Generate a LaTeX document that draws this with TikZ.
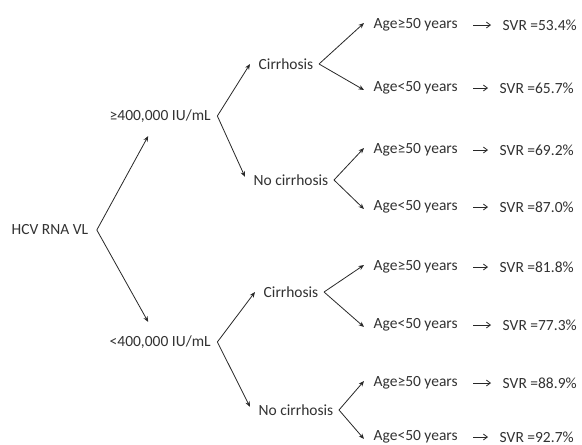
\documentclass[tikz,border=0pt]{standalone}
\usepackage{fontspec}
\setmainfont{Carlito}
\usepackage{tikz}
\usetikzlibrary{arrows.meta, positioning}
\definecolor{treetext}{RGB}{50,50,50}
\definecolor{treeline}{RGB}{40,40,40}
\tikzstyle{treelabel} = [anchor=west, inner sep=1.5pt, text=treetext,
font=\fontsize{15.5}{17}\selectfont]
\tikzstyle{arrow} = [-{Stealth[length=5.5pt,width=4.5pt]}, line width=0.8pt, draw=treeline]
\tikzstyle{resultarrow} = [-{Straight Barb[length=4pt,width=6pt]}, line width=0.8pt, draw=treeline]

\begin{document}
\begin{tikzpicture}[x=1pt, y=-1pt]
    \useasboundingbox[fill=white] (0,0) rectangle (582,445);
    % root and viral load split
    \node (hcv) [treelabel] at (10,230) {HCV RNA VL};
    \node (hi)  [treelabel] at (108,116) {≥400,000 IU/mL};
    \node (lo)  [treelabel] at (108,342) {<400,000 IU/mL};
    % cirrhosis level
    \node (hic) [treelabel] at (257,64)  {Cirrhosis};
    \node (hin) [treelabel] at (252,180) {No cirrhosis};
    \node (loc) [treelabel] at (262,292) {Cirrhosis};
    \node (lon) [treelabel] at (257,410) {No cirrhosis};
    % age level
    \node (a1) [treelabel] at (372,25)  {Age≥50 years};
    \node (a2) [treelabel] at (372,88)  {Age<50 years};
    \node (a3) [treelabel] at (372,150) {Age≥50 years};
    \node (a4) [treelabel] at (372,207) {Age<50 years};
    \node (a5) [treelabel] at (372,267) {Age≥50 years};
    \node (a6) [treelabel] at (372,325) {Age<50 years};
    \node (a7) [treelabel] at (372,383) {Age≥50 years};
    \node (a8) [treelabel] at (372,437) {Age<50 years};
    % outcomes
    \node (s1) [treelabel] at (501,25)  {SVR =53.4\%};
    \node (s2) [treelabel] at (498,88)  {SVR =65.7\%};
    \node (s3) [treelabel] at (498,150) {SVR =69.2\%};
    \node (s4) [treelabel] at (498,207) {SVR =87.0\%};
    \node (s5) [treelabel] at (498,267) {SVR =81.8\%};
    \node (s6) [treelabel] at (501,325) {SVR =77.3\%};
    \node (s7) [treelabel] at (501,383) {SVR =88.9\%};
    \node (s8) [treelabel] at (498,437) {SVR =92.7\%};

    \draw[arrow] ([xshift=7pt]hcv.east) -- ([xshift=-12pt,yshift=-12pt]hi.south);
    \draw[arrow] ([xshift=7pt]hcv.east) -- ([xshift=-12pt,yshift=12pt]lo.north);
    \draw[arrow] ([xshift=5pt]hi.east) -- ([xshift=-7pt]hic.west);
    \draw[arrow] ([xshift=5pt]hi.east) -- ([xshift=-7pt,yshift=-4pt]hin.north west);
    \draw[arrow] ([xshift=5pt]lo.east) -- ([xshift=-7pt]loc.west);
    \draw[arrow] ([xshift=5pt]lo.east) -- ([xshift=-7pt,yshift=-4pt]lon.north west);
    \foreach \c/\u/\d in {hic/a1/a2, hin/a3/a4, loc/a5/a6, lon/a7/a8}{
        \draw[arrow] ([xshift=4pt]\c.east) -- ([xshift=-8pt,yshift=2pt]\u.west);
        \draw[arrow] ([xshift=4pt]\c.east) -- ([xshift=-8pt,yshift=-2pt]\d.west);
    }
    \foreach \i in {1,...,8}{
        \draw[resultarrow] ([xshift=14pt]a\i.east) -- ([xshift=-10pt]s\i.west |- a\i.east);
    }
\end{tikzpicture}
\end{document}
